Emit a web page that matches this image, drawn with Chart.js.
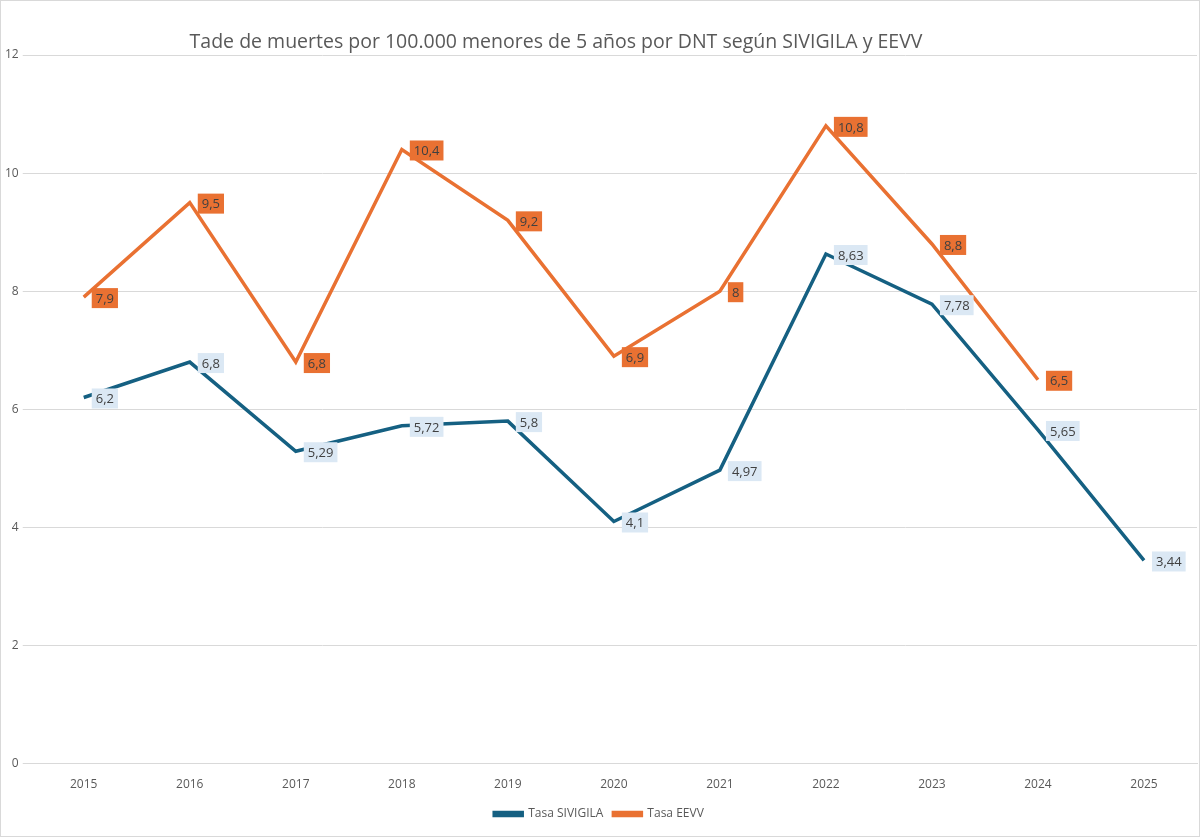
<!DOCTYPE html>
<html>
<head>
<meta charset="utf-8">
<script src="https://cdn.jsdelivr.net/npm/chart.js@4"></script>
<style>
  html, body { margin: 0; padding: 0; background: #fff; }
  #wrap { width: 1198px; height: 835px; border: 1px solid #d9d9d9; }
</style>
</head>
<body>
<div id="wrap"><canvas id="c" width="1198" height="835"></canvas></div>
<script>
const years = ['2015', '2016', '2017', '2018', '2019', '2020', '2021', '2022', '2023', '2024', '2025'];
const sivigila = [6.2, 6.8, 5.29, 5.72, 5.8, 4.1, 4.97, 8.63, 7.78, 5.65, 3.44];
const eevv = [7.9, 9.5, 6.8, 10.4, 9.2, 6.9, 8, 10.8, 8.8, 6.5, null];
const titleText = 'Tade de muertes por 100.000 menores de 5 años por DNT según SIVIGILA y EEVV';

// label boxes to the right of each point
const boxLabels = {
  id: 'boxLabels',
  afterDatasetsDraw(chart) {
    const ctx = chart.ctx;
    ctx.save();
    ctx.font = '13px "Open Sans", sans-serif';
    ctx.textBaseline = 'middle';
    chart.data.datasets.forEach((ds, i) => {
      const meta = chart.getDatasetMeta(i);
      meta.data.forEach((pt, j) => {
        const v = ds.data[j];
        if (v === null || v === undefined) return;
        const txt = String(v).replace('.', ',');
        const w = ctx.measureText(txt).width + 8;
        const h = 20;
        const x = pt.x + 8, y = pt.y - h / 2 + 1;
        ctx.fillStyle = ds.boxColor;
        ctx.fillRect(x, y, w, h);
        ctx.fillStyle = '#404040';
        ctx.fillText(txt, x + 4, y + h / 2 + 1);
      });
    });
    ctx.restore();
  }
};

// title sits left of centre in the original
const offTitle = {
  id: 'offTitle',
  afterDraw(chart) {
    const ctx = chart.ctx;
    ctx.save();
    ctx.font = '19.5px "Open Sans", sans-serif';
    ctx.fillStyle = '#595959';
    ctx.textAlign = 'center';
    ctx.textBaseline = 'middle';
    ctx.fillText(titleText, 555, 41);
    ctx.restore();
  }
};

new Chart(document.getElementById('c'), {
  type: 'line',
  data: {
    labels: years,
    datasets: [
      { label: 'Tasa SIVIGILA', data: sivigila, borderColor: '#156082', backgroundColor: '#156082',
        borderWidth: 3.5, pointRadius: 0, tension: 0, boxColor: '#dbe8f4' },
      { label: 'Tasa EEVV', data: eevv, borderColor: '#e97132', backgroundColor: '#e97132',
        borderWidth: 3.5, pointRadius: 0, tension: 0, boxColor: '#e97132' }
    ]
  },
  options: {
    responsive: false,
    animation: false,
    layout: { padding: { left: 0, right: 2, top: 54, bottom: 6 } },
    plugins: {
      title: { display: false },
      legend: { position: 'bottom', labels: { color: '#595959', boxWidth: 28, boxHeight: 3,
        font: { family: '"Open Sans", sans-serif', size: 12 }, padding: 10 } },
      tooltip: { enabled: false }
    },
    scales: {
      x: { offset: true, grid: { display: false }, border: { color: '#d9d9d9' },
        ticks: { color: '#595959', font: { family: '"Open Sans", sans-serif', size: 12 }, padding: 6 } },
      y: { min: 0, max: 12, ticks: { stepSize: 2, color: '#595959', padding: 4,
        font: { family: '"Open Sans", sans-serif', size: 12 } },
        grid: { color: '#d9d9d9' }, border: { display: false } }
    }
  },
  plugins: [boxLabels, offTitle]
});
</script>
</body>
</html>
